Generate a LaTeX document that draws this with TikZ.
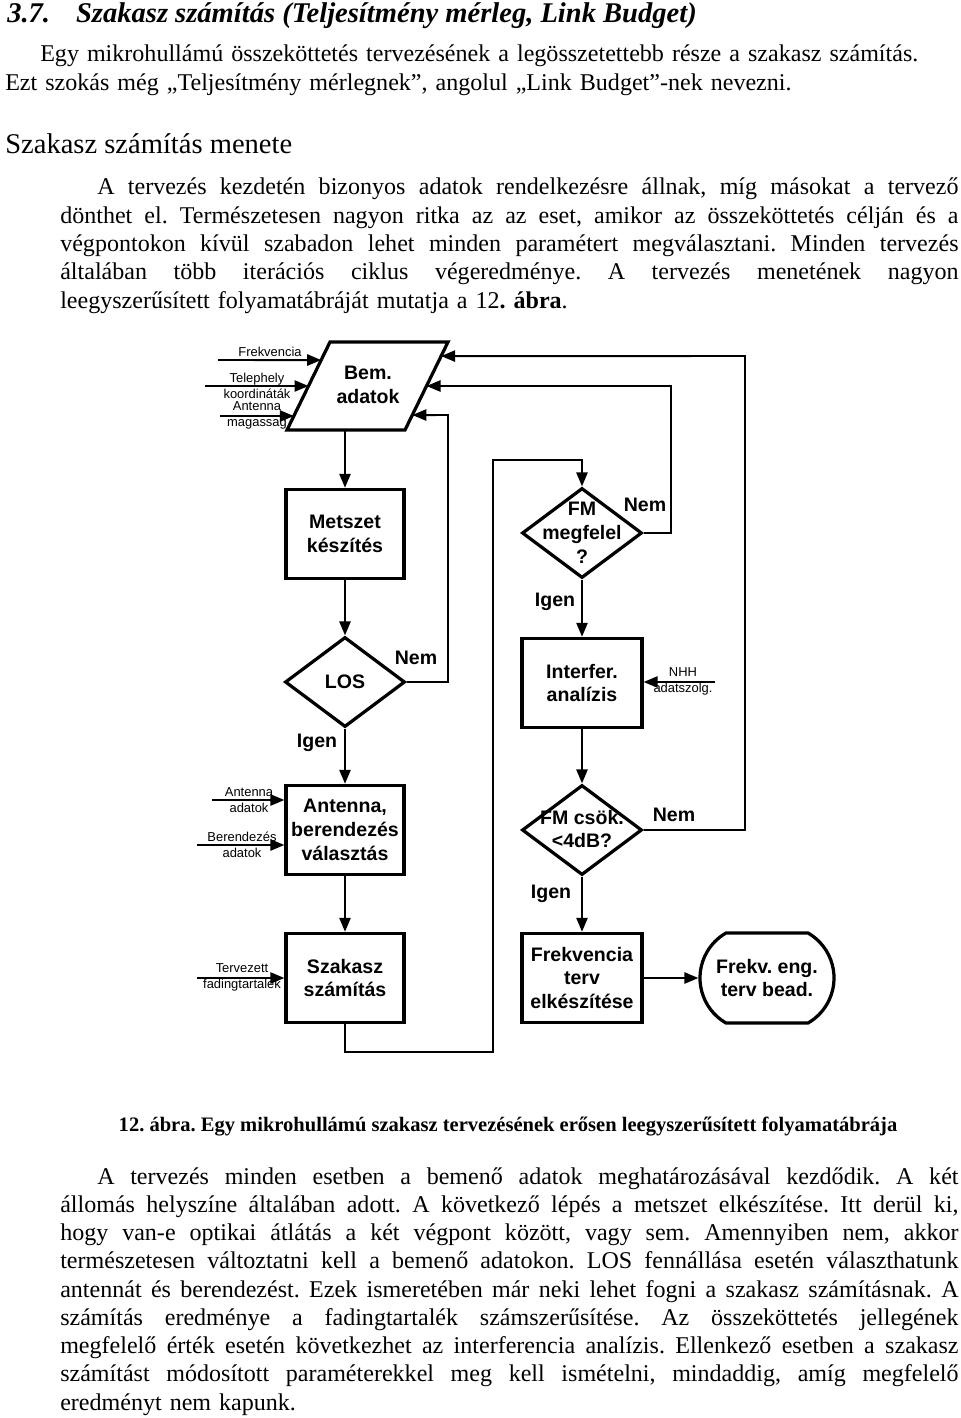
\documentclass[tikz,border=0pt]{standalone}
\usepackage{fontspec}
\setmainfont{Liberation Serif}
\setsansfont{Liberation Sans}
\usetikzlibrary{arrows.meta,shapes.geometric,shapes.misc,calc}

\newdimen\sorhossz \sorhossz=22.45cm
\newcommand{\jline}[1]{\hbox to \sorhossz{\spaceskip=0.25em plus 1em minus 0.05em\relax #1}}
\frenchspacing

\tikzset{
  doboz/.style={draw, line width=2.3pt, minimum width=2.95cm, minimum height=2.23cm,
    inner sep=0pt, align=center, font=\sffamily\bfseries\fontsize{13.9}{17}\selectfont},
  dont/.style={draw, diamond, line width=2.3pt, minimum width=3cm, minimum height=2.25cm, inner sep=0pt},
  valasz/.style={inner sep=0pt, align=center, font=\sffamily\bfseries\fontsize{13.9}{17}\selectfont},
  kis/.style={inner sep=0pt, align=center, font=\sffamily\fontsize{9.2}{11.4}\selectfont},
  nyil/.style={line width=1.4pt, -{Triangle[length=0.35cm,width=0.28cm]}},
  szoveg/.style={inner sep=0pt, anchor=base west, text width=22.45cm, font=\fontsize{17.1}{20.1}\selectfont\frenchspacing}
}

\begin{document}
\begin{tikzpicture}[x=0.025cm,y=-0.025cm]
\useasboundingbox (0,0) rectangle (960,1418);

% szoveg fent
\node[anchor=base west, inner sep=0pt, font=\bfseries\itshape\fontsize{20.3}{24}\selectfont] (cim) at (7,23)
  {3.7.\hspace{0.65cm}Szakasz számítás (Teljesítmény mérleg, Link Budget)};
\node[szoveg, text width=23.825cm] (bek1) at (5,62)
  {\hspace*{0.875cm}Egy mikrohullámú összeköttetés tervezésének a legösszetettebb része a szakasz számítás.\\
   Ezt szokás még „Teljesítmény mérlegnek”, angolul „Link Budget”-nek nevezni.};
\node[anchor=base west, inner sep=0pt, font=\fontsize{20.3}{24}\selectfont] (alcim) at (5,154)
  {Szakasz számítás menete};
\node[szoveg] (bek2) at (60,195)
  {\jline{\hspace*{0.925cm}A tervezés kezdetén bizonyos adatok rendelkezésre állnak, míg másokat a tervező}
   \jline{dönthet el. Természetesen nagyon ritka az az eset, amikor az összeköttetés célján és a}
   \jline{végpontokon kívül szabadon lehet minden paramétert megválasztani. Minden tervezés}
   \jline{általában több iterációs ciklus végeredménye. A tervezés menetének nagyon}
   leegyszerűsített folyamatábráját mutatja a 12\textbf{. ábra}.};

% bemeno adatok
\coordinate (bemBL) at (287,430);
\coordinate (bemTL) at (330,342);
\coordinate (bemTR) at (448,342);
\coordinate (bemBR) at (405,430);
\draw[line width=2.3pt, line join=miter] (bemBL) -- (bemTL) -- (bemTR) -- (bemBR) -- cycle;
\node[valasz] (bemfel) at (368,385) {Bem.\\adatok};

\node[doboz] (metszet) at (345,534) {Metszet\\készítés};
\node[dont] (los) at (345,682) {};
\node[valasz] (losfel) at (los) {LOS};
\node[doboz] (antenna) at (345,830) {Antenna,\\berendezés\\választás};
\node[doboz] (szakasz) at (345,978) {Szakasz\\számítás};

\node[dont] (fmm) at (582,533) {};
\node[valasz] (fmmfel) at (582,533) {FM\\megfelel\\?};
\node[doboz, minimum width=3cm] (interf) at (582,683) {Interfer.\\analízis};
\node[dont] (fmcs) at (582,830) {};
\node[valasz] (fmcsfel) at (582,829) {FM csök.\\<4dB?};
\node[doboz, minimum width=3cm] (frekterv) at (582,978) {Frekvencia\\terv\\elkészítése};
\node[draw, rounded rectangle, rounded rectangle arc length=120, line width=2.3pt, minimum width=3.35cm,
  minimum height=2.25cm, inner sep=0pt, align=center, font=\sffamily\bfseries\fontsize{13.9}{17}\selectfont]
  (bead) at (767,978) {Frekv. eng.\\terv bead.};

% bemenetek balrol
\coordinate (frekbe) at (218,360);
\coordinate (telbe) at (205,386);
\coordinate (magbe) at (220,416);
\coordinate (antbe) at (212,800);
\coordinate (berbe) at (197,845);
\coordinate (fadbe) at (197,978);
\coordinate (nhhbe) at (715,682);
\draw[nyil] (frekbe) -- ($(bemBL)!0.795!(bemTL)$);
\draw[nyil] (telbe) -- ($(bemBL)!0.5!(bemTL)$);
\draw[nyil] (magbe) -- ($(bemBL)!0.159!(bemTL)$);
\draw[nyil] (antbe) -- (antbe -| antenna.west);
\draw[nyil] (berbe) -- (berbe -| antenna.west);
\draw[nyil] (fadbe) -- (fadbe -| szakasz.west);
\draw[nyil] (nhhbe) -- (nhhbe -| interf.east);

\node[kis] (frekl) at (270,352) {Frekvencia};
\node[kis] (tell) at (257,386) {Telephely\\koordináták};
\node[kis] (magl) at (257,415.5) {Antenna\\magassag};
\node[kis] (antl) at (249,800) {Antenna\\adatok};
\node[kis] (berl) at (242,845) {Berendezés\\adatok};
\node[kis] (fadl) at (242,977.5) {Tervezett\\fadingtartalek};
\node[kis] (nhhl) at (683,681.5) {NHH\\adatszolg.};

% folyam
\draw[nyil] (metszet.north |- bemBL) -- (metszet.north);
\draw[nyil] (metszet.south) -- (los.north);
\draw[nyil] (los.south) -- (antenna.north);
\draw[nyil] (antenna.south) -- (szakasz.north);
\coordinate (hurok1) at (493,1052);
\coordinate (hurok2) at (493,460);
\draw[nyil] (szakasz.south) |- (hurok1) -- (hurok2) -| (fmm.north);
\draw[nyil] (fmm.south) -- (interf.north);
\draw[nyil] (interf.south) -- (fmcs.north);
\draw[nyil] (fmcs.south) -- (frekterv.north);
\draw[nyil] (frekterv.east) -- (bead.west);

% visszacsatolasok
\coordinate (vissza1) at (448,415);
\coordinate (vissza2) at (671,386);
\coordinate (vissza3) at (745,356);
\draw[nyil] (los.east) -| (vissza1) -- ($(bemBR)!0.17!(bemTR)$);
\draw[nyil] (fmm.east) -| (vissza2) -- ($(bemBR)!0.5!(bemTR)$);
\draw[nyil] (fmcs.east) -| (vissza3) -- ($(bemBR)!0.84!(bemTR)$);

\node[valasz] (losnem) at (416,658) {Nem};
\node[valasz] (losigen) at (317,743) {Igen};
\node[valasz] (fmmnem) at (645,505) {Nem};
\node[valasz] (fmmigen) at (555,602) {Igen};
\node[valasz] (fmcsnem) at (674,815) {Nem};
\node[valasz] (fmcsigen) at (551,894) {Igen};

% szoveg lent
\node[anchor=base, inner sep=0pt, font=\bfseries\fontsize{14.6}{18}\selectfont] (felirat) at (508,1131)
  {12. ábra. Egy mikrohullámú szakasz tervezésének erősen leegyszerűsített folyamatábrája};
\node[szoveg] (bek3) at (60,1184)
  {\jline{\hspace*{0.925cm}A tervezés minden esetben a bemenő adatok meghatározásával kezdődik. A két}
   \jline{állomás helyszíne általában adott. A következő lépés a metszet elkészítése. Itt derül ki,}
   \jline{hogy van-e optikai átlátás a két végpont között, vagy sem. Amennyiben nem, akkor}
   \jline{természetesen változtatni kell a bemenő adatokon. LOS fennállása esetén választhatunk}
   \jline{antennát és berendezést. Ezek ismeretében már neki lehet fogni a szakasz számításnak. A}
   \jline{számítás eredménye a fadingtartalék számszerűsítése. Az összeköttetés jellegének}
   \jline{megfelelő érték esetén következhet az interferencia analízis. Ellenkező esetben a szakasz}
   \jline{számítást módosított paraméterekkel meg kell ismételni, mindaddig, amíg megfelelő}
   eredményt nem kapunk.};
\end{tikzpicture}
\end{document}
